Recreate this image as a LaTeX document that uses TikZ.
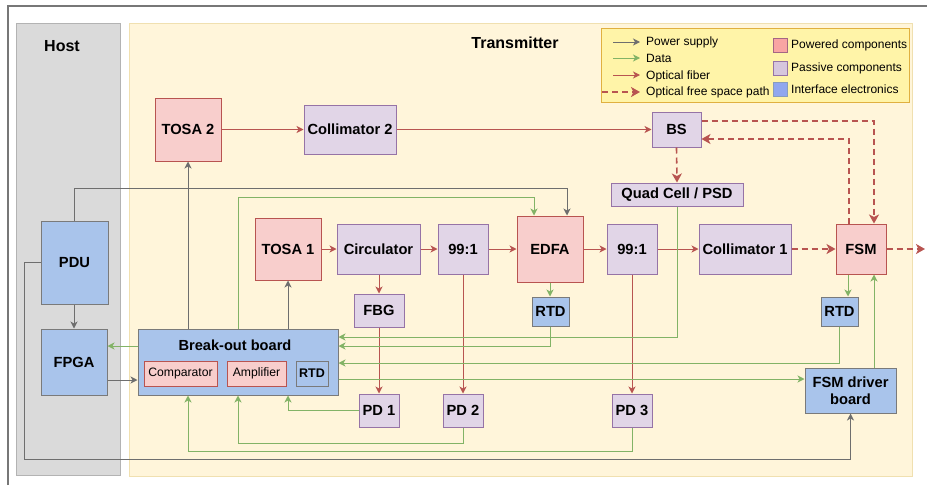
\documentclass[tikz,border=0pt]{standalone}
\usepackage{fontspec}
\setmainfont{Liberation Sans}
\usetikzlibrary{arrows.meta,calc}
\definecolor{redfill}{HTML}{F8CECC}
\definecolor{redline}{HTML}{B85450}
\definecolor{purfill}{HTML}{E1D5E7}
\definecolor{purline}{HTML}{9673A6}
\definecolor{bluefill}{HTML}{A9C4EB}
\definecolor{blueline}{HTML}{7A7A7A}
\definecolor{hostfill}{HTML}{DADADA}
\definecolor{hostline}{HTML}{B3B3B3}
\definecolor{txfill}{HTML}{FFF5DA}
\definecolor{txline}{HTML}{F0E0B0}
\definecolor{legfill}{HTML}{FFF4A8}
\definecolor{legline}{HTML}{E0B040}
\definecolor{pwline}{HTML}{6E6E6E}
\definecolor{dataline}{HTML}{82B366}
\definecolor{frameline}{HTML}{777777}
\tikzset{
  box/.style={draw, line width=1pt, inner sep=0pt, align=center, font=\bfseries\fontsize{14.7}{17}\selectfont},
  powered/.style={box, fill=redfill, draw=redline},
  passive/.style={box, fill=purfill, draw=purline},
  iface/.style={box, fill=bluefill, draw=blueline},
  pw/.style={line width=1pt, draw=pwline, arrows={-{Stealth[length=7pt,width=7pt,inset=2pt,fill=pwline]}}},
  data/.style={line width=1pt, draw=dataline, arrows={-{Stealth[length=7pt,width=7pt,inset=2pt,fill=dataline]}}},
  fiber/.style={line width=1pt, draw=redline, arrows={-{Stealth[length=7pt,width=7pt,inset=2pt,fill=redline]}}},
  fspace/.style={draw=redline, line width=1.6pt, dash pattern=on 6pt off 4pt, arrows={-{Stealth[length=9pt,width=10pt,inset=2.5pt,fill=redline]}}},
  legtext/.style={anchor=west, inner sep=0pt, font=\fontsize{12}{14}\selectfont},
  title/.style={font=\bfseries\fontsize{16}{18}\selectfont}
}
\begin{document}
\begin{tikzpicture}[x=1pt,y=-1pt]
\useasboundingbox (0,0) rectangle (927,485);
% frame
\draw[frameline, line width=1.2pt] (8,485) -- (8,6) -- (927,6);
% panels
\draw[fill=hostfill, draw=hostline, line width=1pt] (16,23) rectangle (120,475);
\draw[fill=txfill, draw=txline, line width=1pt] (129,23) rectangle (912,476);
\node[title] (thost) at (62,46) {Host};
\node[title] (ttx) at (515,43) {Transmitter};

% legend
\draw[fill=legfill, draw=legline, line width=1pt] (601,28) rectangle (909,102);
\coordinate (la1) at (613,42); \coordinate (lb1) at (640,42);
\coordinate (la2) at (613,58); \coordinate (lb2) at (640,58);
\coordinate (la3) at (613,75); \coordinate (lb3) at (640,75);
\coordinate (la4) at (602,92); \coordinate (lb4) at (640,92);
\draw[pw] (la1) -- (lb1);
\draw[data] (la2) -- (lb2);
\draw[fiber] (la3) -- (lb3);
\draw[fspace] (la4) -- (lb4);
\node[legtext] (lt1) at (646,42) {Power supply};
\node[legtext] (lt2) at (646,58) {Data};
\node[legtext] (lt3) at (646,76) {Optical fiber};
\node[legtext] (lt4) at (646,92) {Optical free space path};
\draw[fill=redfill!80!red, draw=purline!60!redline, line width=1pt] (773,38) rectangle (787,52);
\draw[fill=purfill!85!purline, draw=purline, line width=1pt] (773,61) rectangle (787,75);
\draw[fill=bluefill!85!blue, draw=bluefill!80!black, line width=1pt] (773,82) rectangle (787,96);
\node[legtext] (lt5) at (791,45) {Powered components};
\node[legtext] (lt6) at (791,68) {Passive components};
\node[legtext] (lt7) at (791,89) {Interface electronics};

% nodes
\node[powered, minimum width=66pt, minimum height=63pt] (tosa2) at (188,129.5) {TOSA 2};
\node[passive, minimum width=92pt, minimum height=49pt] (col2) at (350,129.5) {Collimator 2};
\node[passive, minimum width=49pt, minimum height=35pt] (bs) at (676.5,129.5) {BS};
\node[passive, minimum width=132pt, minimum height=23pt] (quad) at (677,194.5) {Quad Cell / PSD};
\node[powered, minimum width=66pt, minimum height=62pt] (tosa1) at (288,249) {TOSA 1};
\node[passive, minimum width=83pt, minimum height=50pt] (circ) at (378.5,249) {Circulator};
\node[passive, minimum width=50pt, minimum height=50pt] (sa) at (463,249) {99:1};
\node[powered, minimum width=66pt, minimum height=66pt] (edfa) at (550,249) {EDFA};
\node[passive, minimum width=50pt, minimum height=50pt] (sb) at (632,249) {99:1};
\node[passive, minimum width=92pt, minimum height=50pt] (col1) at (745,249) {Collimator 1};
\node[powered, minimum width=50pt, minimum height=50pt] (fsm) at (861,249) {FSM};
\node[passive, minimum width=50pt, minimum height=33pt] (fbg) at (379,310.5) {FBG};
\node[iface, minimum width=37pt, minimum height=29pt] (rtda) at (550.5,311.5) {RTD};
\node[iface, minimum width=37pt, minimum height=29pt] (rtdb) at (839.5,311.5) {RTD};
\node[passive, minimum width=40pt, minimum height=33pt] (pda) at (379,410.5) {PD 1};
\node[passive, minimum width=40pt, minimum height=33pt] (pdb) at (463,410.5) {PD 2};
\node[passive, minimum width=40pt, minimum height=33pt] (pdc) at (632,410.5) {PD 3};
\node[iface, minimum width=91pt, minimum height=45pt] (drv) at (850.5,390.5) {FSM driver\\board};
\node[iface, minimum width=67pt, minimum height=83pt] (pdu) at (74.5,262.5) {PDU};
\node[iface, minimum width=66pt, minimum height=66pt] (fpga) at (74,362) {FPGA};
\node[iface, minimum width=200pt, minimum height=66pt] (brk) at (238,362) {};
\node[font=\bfseries\fontsize{14.6}{17}\selectfont, inner sep=0pt] (brklab) at (235,345) {Break-out board};
\node[powered, font=\fontsize{12.2}{14}\selectfont, minimum width=73pt, minimum height=25pt] (comp) at (180.5,373.5) {Comparator};
\node[powered, font=\fontsize{12.2}{14}\selectfont, minimum width=59pt, minimum height=25pt] (amp) at (256.5,373.5) {Amplifier};
\node[iface, font=\bfseries\fontsize{12.5}{14}\selectfont, minimum width=32pt, minimum height=25pt] (rtdc) at (312,373.5) {RTD};

% optical fiber
\draw[fiber] (tosa2.east) -- (col2.west);
\draw[fiber] (col2.east) -- (bs.west);
\draw[fiber] (tosa1.east) -- (circ.west);
\draw[fiber] (circ.east) -- (sa.west);
\draw[fiber] (sa.east) -- (edfa.west);
\draw[fiber] (edfa.east) -- (sb.west);
\draw[fiber] (sb.east) -- (col1.west);
\draw[fiber] (fbg.north |- circ.south) -- (fbg.north);
\draw[fiber] (fbg.south) -- (pda.north);
\draw[fiber] (sa.south) -- (pdb.north);
\draw[fiber] (sb.south) -- (pdc.north);

% free space
\coordinate (out) at (925,249);
\draw[fspace] (col1.east) -- (fsm.west);
\draw[fspace] (fsm.east) -- (out);
\draw[fspace] ([yshift=8.5pt]bs.east) -- (874,121) -- ([xshift=13pt]fsm.north);
\draw[fspace] ([xshift=-12pt]fsm.north) -- (849,139) -- ([yshift=-9.5pt]bs.east);
\draw[fspace] (bs.south) -- (quad.north);

% power supply
\draw[pw] (pdu.north) -- (74.5,188) -- (567,188) -- ([xshift=17pt]edfa.north);
\draw[pw] (pdu.west) -- (24,262.5) -- (24,459) -- (850.5,459) -- (drv.south);
\draw[pw] (fpga.north |- pdu.south) -- (fpga.north);
\draw[pw] ([yshift=-18pt]fpga.east) -- ([yshift=-18pt]brk.west);
\draw[pw] (tosa2.south |- brk.north) -- (tosa2.south);
\draw[pw] (tosa1.south |- brk.north) -- (tosa1.south);

% data
\draw[data] (brk.north) -- (238,197) -- (534,197) -- ([xshift=-16pt]edfa.north);
\draw[data] ([yshift=16pt]brk.west) -- ([yshift=16pt]fpga.east);
\draw[data] (edfa.south) -- (edfa.south |- rtda.north);
\draw[data] (rtda.south) -- (550.5,346) -- ([yshift=16pt]brk.east);
\draw[data] (quad.south) -- (677,337) -- ([yshift=25pt]brk.east);
\draw[data] ([xshift=-13pt]fsm.south) -- ([xshift=8.5pt]rtdb.north);
\draw[data] (rtdb.south) -- (839.5,363) -- ([yshift=-1pt]brk.east);
\draw[data] ([yshift=-17pt]brk.east) -- ([yshift=11.5pt]drv.west);
\draw[data] ([xshift=23.5pt]drv.north) -- ([xshift=13pt]fsm.south);
\draw[data] (pda.west) -- (288,410.5) -- ([xshift=50pt]brk.south);
\draw[data] (pdb.south) -- (463,443) -- (238,443) -- (brk.south);
\draw[data] (pdc.south) -- (632,451) -- (188,451) -- ([xshift=-50pt]brk.south);
\end{tikzpicture}
\end{document}
